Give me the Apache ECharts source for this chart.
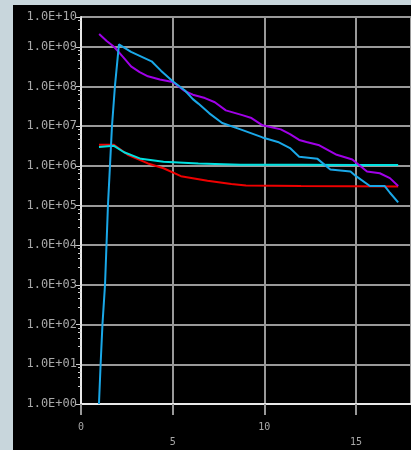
<!DOCTYPE html>
<html>
<head>
<meta charset="utf-8">
<script src="https://cdn.jsdelivr.net/npm/echarts@6/dist/echarts.min.js"></script>
<style>
html,body{margin:0;padding:0;background:#c8d6dc;width:411px;height:450px;overflow:hidden;}
#chart{position:absolute;left:13px;top:5px;width:398px;height:445px;background:#000;}
</style>
</head>
<body>
<div id="chart"></div>
<script>
// Purple series
var purpleX = [0.99, 1.4, 1.8, 2.3, 2.73, 3.2, 3.65, 4.3, 5.0, 5.67, 6.1, 6.76, 7.3, 7.9, 8.8, 9.3, 9.9, 10.9, 11.4, 11.9, 12.3, 13.0, 13.95, 14.8, 15.6, 16.3, 16.85, 17.3];
var purpleY = [2.1e9, 1.4e9, 1.0e9, 5.5e8, 3.2e8, 2.3e8, 1.8e8, 1.5e8, 1.3e8, 7.6e7, 6.2e7, 5.1e7, 4.0e7, 2.5e7, 1.9e7, 1.6e7, 1.05e7, 8.3e6, 6.3e6, 4.5e6, 4.0e6, 3.3e6, 1.9e6, 1.45e6, 7.2e5, 6.5e5, 4.9e5, 3.1e5];
// Blue series
var blueX = [0.98, 1.07, 1.17, 1.31, 1.39, 1.47, 1.58, 1.69, 1.85, 2.07, 2.73, 3.2, 3.85, 4.36, 5.0, 5.67, 6.1, 6.4, 7.0, 7.7, 8.7, 9.9, 10.74, 11.4, 11.9, 12.9, 13.6, 14.7, 15.0, 15.76, 16.57, 16.85, 17.3];
var blueY = [1, 10, 100, 1e3, 1e4, 1e5, 1e6, 1e7, 1e8, 1.15e9, 7.4e8, 5.9e8, 4.3e8, 2.5e8, 1.35e8, 7.9e7, 4.8e7, 3.7e7, 2.1e7, 1.2e7, 8.3e6, 5.2e6, 4.0e6, 2.8e6, 1.7e6, 1.5e6, 8.1e5, 7.2e5, 5.5e5, 3.1e5, 3.1e5, 2.1e5, 1.2e5];
// Cyan series
var cyanX = [0.98, 1.8, 2.35, 3.27, 4.5, 6.4, 8.7, 12.0, 15.0, 17.3];
var cyanY = [3.0e6, 3.2e6, 2.2e6, 1.5e6, 1.26e6, 1.15e6, 1.07e6, 1.06e6, 1.05e6, 1.05e6];
// Red series
var redX = [0.98, 1.8, 2.55, 3.65, 4.5, 5.45, 6.9, 8.2, 9.0, 12.0, 17.3];
var redY = [3.4e6, 3.4e6, 1.9e6, 1.15e6, 8.7e5, 5.5e5, 4.2e5, 3.5e5, 3.2e5, 3.1e5, 3.0e5];
// Axis ticks
var xTicks = [0, 5, 10, 15];

function pairs(xs, ys){ return xs.map(function(x,i){ return [x, ys[i]]; }); }

var chart = echarts.init(document.getElementById('chart'));
var grid = '#999999';
function mk(name, xs, ys, color){
  return {name:name, type:'line', data:pairs(xs, ys), showSymbol:false, symbol:'none',
    lineStyle:{color:color, width:2}, itemStyle:{color:color}, animation:false};
}
chart.setOption({
  backgroundColor:'#000',
  animation:false,
  grid:{left:68, top:12, right:0, bottom:37},
  xAxis:{
    type:'value', min:0, max:18, interval:5,
    axisLine:{show:true, onZero:false, lineStyle:{color:'#e8e8e8', width:2}},
    axisTick:{show:true, length:11, lineStyle:{color:grid, width:2}},
    splitLine:{show:true, lineStyle:{color:grid, width:2}},
    axisLabel:{
      color:'#a8a8a8', fontFamily:'DejaVu Sans Mono', fontSize:10, margin:16, lineHeight:15,
      showMaxLabel:false,
      formatter:function(v){
        if (xTicks.indexOf(v) < 0) return '';
        return (xTicks.indexOf(v) % 2 === 1) ? '\n' + v : '' + v;
      }
    }
  },
  yAxis:{
    type:'log', logBase:10, min:1, max:Math.pow(10, 9.75), splitNumber:10,
    axisLine:{show:true, lineStyle:{color:'#e8e8e8', width:2}},
    axisTick:{show:true, length:5, lineStyle:{color:'#d0d0d0', width:1}},
    minorTick:{show:true, splitNumber:5, length:3, lineStyle:{color:'#d0d0d0', width:1}},
    splitLine:{show:true, lineStyle:{color:grid, width:2}},
    axisLabel:{
      color:'#a8a8a8', fontFamily:'DejaVu Sans Mono', fontSize:12, margin:4,
      formatter:function(v){
        var e = Math.round(Math.log10(v));
        return '1.0E' + (e < 0 ? '-' : '+') + (Math.abs(e) < 10 ? '0' : '') + Math.abs(e);
      }
    }
  },
  series:[
    mk('red', redX, redY, '#ee0000'),
    mk('cyan', cyanX, cyanY, '#00e0e0'),
    mk('purple', purpleX, purpleY, '#a000e8'),
    mk('blue', blueX, blueY, '#1aa8e8')
  ]
});
</script>
</body>
</html>
